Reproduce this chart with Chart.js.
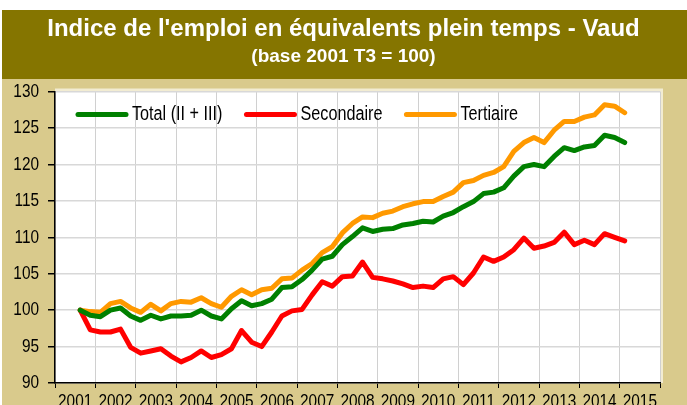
<!DOCTYPE html>
<html>
<head>
<meta charset="utf-8">
<script src="https://cdn.jsdelivr.net/npm/chart.js@4.4.0/dist/chart.umd.min.js"></script>
<style>
  html, body { margin: 0; padding: 0; background: #fff; }
  #wrap { width: 687px; height: 405px; }
</style>
</head>
<body>
<div id="wrap"><canvas id="chart" width="687" height="405"></canvas></div>
<script>
// years on the axis, one slot of 4 quarters each
const years = [2001, 2002, 2003, 2004, 2005, 2006, 2007, 2008, 2009, 2010, 2011, 2012, 2013, 2014, 2015];
const firstQuarter = 3; // series start in 2001 T3

const total = [
  100.0, 99.3, 99.1, 100.0, 100.3, 99.2, 98.6, 99.3, 98.8, 99.2,
  99.2, 99.3, 100.0, 99.2, 98.8, 100.2, 101.3, 100.6, 100.9, 101.5,
  103.1, 103.2, 104.2, 105.5, 107.0, 107.4, 109.0, 110.1, 111.3, 110.8,
  111.1, 111.2, 111.7, 111.9, 112.2, 112.1, 112.9, 113.4, 114.2, 114.9,
  116.0, 116.2, 116.8, 118.4, 119.7, 120.0, 119.7, 121.1, 122.3, 121.9,
  122.4, 122.6, 124.0, 123.7, 123.0
];
const secondaire = [
  100.0, 97.3, 97.0, 97.0, 97.4, 94.9, 94.1, 94.4, 94.7, 93.7,
  92.9, 93.5, 94.4, 93.5, 93.9, 94.7, 97.2, 95.6, 95.0, 97.0,
  99.2, 99.9, 100.1, 102.1, 103.9, 103.3, 104.6, 104.7, 106.6, 104.5,
  104.3, 104.0, 103.6, 103.1, 103.3, 103.1, 104.3, 104.6, 103.5, 105.1,
  107.3, 106.7, 107.3, 108.3, 109.9, 108.5, 108.8, 109.3, 110.7, 109.0,
  109.6, 109.0, 110.5, 110.0, 109.5
];
const tertiaire = [
  100.0, 99.8, 99.7, 100.9, 101.2, 100.3, 99.7, 100.8, 99.9, 100.9,
  101.2, 101.1, 101.7, 100.9, 100.4, 101.9, 102.8, 102.1, 102.8, 103.0,
  104.3, 104.4, 105.5, 106.4, 107.9, 108.7, 110.6, 111.9, 112.8, 112.7,
  113.3, 113.6, 114.2, 114.6, 114.9, 114.9, 115.6, 116.2, 117.5, 117.8,
  118.5, 118.9, 119.7, 121.8, 123.0, 123.7, 123.0, 124.7, 125.9, 125.9,
  126.5, 126.8, 128.2, 128.0, 127.1
];
const yTicks = [90, 95, 100, 105, 110, 115, 120, 125, 130];

// Arial Narrow is not installed: fall back to Liberation Sans squeezed horizontally
const NARROW = 0.81;
const NARROW_FONT = '"Arial Narrow", "Liberation Sans", Arial, sans-serif';
const TITLE_FONT = '"Liberation Sans", Arial, sans-serif';
const nativeFillText = CanvasRenderingContext2D.prototype.fillText;
CanvasRenderingContext2D.prototype.fillText = function (text, x, y, maxWidth) {
  if (this.font.indexOf("Arial Narrow") >= 0) {
    const w = this.measureText(text).width * NARROW;
    maxWidth = maxWidth === undefined ? w : Math.min(maxWidth, w);
  }
  if (maxWidth === undefined) return nativeFillText.call(this, text, x, y);
  return nativeFillText.call(this, text, x, y, maxWidth);
};

Chart.defaults.font.family = NARROW_FONT;
Chart.defaults.color = "#000";

function toPoints(arr) {
  return arr.map((v, i) => ({ x: firstQuarter - 1 + i, y: v }));
}

// paint the page background, the title band and the plot area
const backgroundPlugin = {
  id: "bg",
  beforeDraw(chart) {
    const ctx = chart.ctx;
    const a = chart.chartArea;
    ctx.save();
    ctx.fillStyle = "#fff";
    ctx.fillRect(0, 0, chart.width, chart.height);
    ctx.fillStyle = "#d9ca8c";
    ctx.fillRect(2, 10, chart.width - 2, chart.height - 10);
    ctx.fillStyle = "#857500";
    ctx.fillRect(2, 10, chart.width - 2, 69);
    ctx.fillStyle = "#fff";
    ctx.fillRect(a.left, a.top, a.right - a.left, a.bottom - a.top);
    ctx.strokeStyle = "#f2ecd2";
    ctx.lineWidth = 3;
    ctx.beginPath();
    ctx.moveTo(a.left, a.top - 1.5);
    ctx.lineTo(a.right + 1.5, a.top - 1.5);
    ctx.lineTo(a.right + 1.5, a.bottom);
    ctx.stroke();
    ctx.restore();
  }
};

// legend drawn inside the plot area, in one row
const insideLegend = {
  id: "insideLegend",
  afterDatasetsDraw(chart) {
    const ctx = chart.ctx;
    const a = chart.chartArea;
    let x = a.left + 23;
    const y = a.top + 23;
    ctx.save();
    ctx.font = "20px " + NARROW_FONT;
    ctx.textBaseline = "middle";
    ctx.textAlign = "left";
    chart.data.datasets.forEach(ds => {
      ctx.strokeStyle = ds.borderColor;
      ctx.lineWidth = 5;
      ctx.lineCap = "round";
      ctx.beginPath();
      ctx.moveTo(x, y);
      ctx.lineTo(x + 48, y);
      ctx.stroke();
      ctx.fillStyle = "#000";
      ctx.fillText(ds.label, x + 54, y);
      x += 54 + ctx.measureText(ds.label).width * NARROW + 24;
    });
    ctx.restore();
  }
};

new Chart(document.getElementById("chart"), {
  type: "line",
  data: {
    datasets: [
      { label: "Total (II + III)", data: toPoints(total), borderColor: "#008000" },
      { label: "Secondaire", data: toPoints(secondaire), borderColor: "#ff0000" },
      { label: "Tertiaire", data: toPoints(tertiaire), borderColor: "#ff9900" }
    ]
  },
  options: {
    responsive: false,
    animation: false,
    devicePixelRatio: 1,
    layout: { padding: 0 },
    elements: {
      line: { borderWidth: 5, tension: 0, borderJoinStyle: "round", borderCapStyle: "round", fill: false },
      point: { radius: 0 }
    },
    plugins: {
      legend: { display: false },
      tooltip: { enabled: false },
      title: {
        display: true,
        text: "Indice de l'emploi en équivalents plein temps - Vaud",
        color: "#fff",
        font: { family: TITLE_FONT, size: 24, weight: "bold" },
        padding: { top: 15, bottom: 0 }
      },
      subtitle: {
        display: true,
        text: "(base 2001 T3 = 100)",
        color: "#fff",
        font: { family: TITLE_FONT, size: 19, weight: "bold" },
        padding: { top: 2, bottom: 23 }
      }
    },
    scales: {
      x: {
        type: "linear",
        min: -0.5,
        max: years.length * 4 - 0.5,
        afterBuildTicks(scale) {
          scale.ticks = years.map((y, i) => ({ value: i * 4 + 1.5 }));
        },
        afterFit(scale) { scale.height = 22; },
        ticks: {
          autoSkip: false,
          maxRotation: 0,
          padding: 2,
          font: { size: 19 },
          callback: (v, i) => String(years[i])
        },
        grid: { offset: true, color: "#d0d0d0", tickColor: "#000", tickLength: 5 },
        border: { color: "#000", width: 1.5 }
      },
      y: {
        min: yTicks[0],
        max: yTicks[yTicks.length - 1],
        afterBuildTicks(scale) {
          scale.ticks = yTicks.map(v => ({ value: v }));
        },
        afterFit(scale) { scale.width = 55; },
        ticks: { padding: 9, font: { size: 19 } },
        grid: { color: "#d8d8d8", lineWidth: 1.5, tickColor: "#000", tickLength: 7 },
        border: { color: "#000", width: 1.5 }
      },
      // empty strip on the right so the title stays centred on the whole picture
      yRight: {
        position: "right",
        afterFit(scale) { scale.width = 27; },
        ticks: { display: false },
        grid: { display: false, drawTicks: false },
        border: { display: false }
      }
    }
  },
  plugins: [backgroundPlugin, insideLegend]
});
</script>
</body>
</html>
